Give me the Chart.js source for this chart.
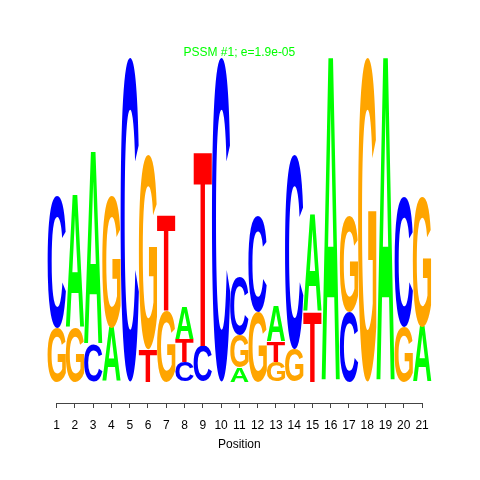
<!DOCTYPE html>
<html>
<head>
<meta charset="utf-8">
<script src="https://cdn.jsdelivr.net/npm/chart.js@4/dist/chart.umd.min.js"></script>
<style>
  html, body { margin: 0; padding: 0; background: #fff; }
  #wrap { width: 480px; height: 480px; }
</style>
</head>
<body>
<div id="wrap"><canvas id="c" width="480" height="480"></canvas></div>
<script>
// Positions (x categories)
const positions = ['1','2','3','4','5','6','7','8','9','10','11','12','13','14','15','16','17','18','19','20','21'];
// Letter heights (bits) per position
const heightA = [0, 0.82, 1.19, 0.33, 0, 0, 0, 0.20, 0, 0, 0.09, 0, 0.21, 0, 0.60, 2.0, 0, 0, 2.0, 0, 0.34];
const heightC = [0.81, 0, 0.23, 0, 2.0, 0, 0, 0.12, 0.22, 2.0, 0.36, 0.59, 0, 1.20, 0, 0, 0.43, 0, 0, 0.80, 0];
const heightG = [0.33, 0.33, 0, 0.81, 0, 1.20, 0.44, 0, 0, 0, 0.20, 0.43, 0.12, 0.20, 0, 0, 0.59, 2.0, 0, 0.34, 0.80];
const heightT = [0, 0, 0, 0, 0, 0.20, 0.59, 0.14, 1.20, 0, 0, 0, 0.13, 0, 0.43, 0, 0, 0, 0, 0, 0];
const letters = ['A', 'C', 'G', 'T'];
const letterColors = { A: '#00FF00', C: '#0000FF', G: '#FFA500', T: '#FF0000' };
const titleText = 'PSSM #1; e=1.9e-05';
const xTitle = 'Position';

const heights = { A: heightA, C: heightC, G: heightG, T: heightT };

// Build floating [start, end] ranges: smallest letter at the bottom
const ranges = { A: [], C: [], G: [], T: [] };
positions.forEach((p, i) => {
  const order = letters.map(l => ({ l, h: heights[l][i] })).sort((a, b) => a.h - b.h);
  let acc = 0;
  order.forEach(o => {
    if (o.h > 0) { ranges[o.l][i] = [acc, acc + o.h]; acc += o.h; }
    else ranges[o.l][i] = null;
  });
});

const datasets = letters.map(l => ({
  label: l,
  data: ranges[l],
  backgroundColor: 'rgba(0,0,0,0)',
  borderWidth: 0,
  grouped: false,
  barPercentage: 1.0,
  categoryPercentage: 1.0
}));

const glyphFont = 'bold 200px "Liberation Sans", Arial, sans-serif';
const letterPlugin = {
  id: 'letters',
  afterDatasetsDraw(chart) {
    const ctx = chart.ctx;
    chart.data.datasets.forEach((ds, di) => {
      const meta = chart.getDatasetMeta(di);
      const ch = ds.label;
      meta.data.forEach((el, i) => {
        if (!ds.data[i]) return;
        const top = Math.min(el.y, el.base);
        const bottom = Math.max(el.y, el.base);
        const h = bottom - top;
        const w = el.width;
        if (h <= 0.3) return;
        ctx.save();
        ctx.font = glyphFont;
        ctx.textBaseline = 'alphabetic';
        ctx.textAlign = 'left';
        const m = ctx.measureText(ch);
        const gl = m.actualBoundingBoxLeft;
        const gw = m.actualBoundingBoxLeft + m.actualBoundingBoxRight;
        const gh = m.actualBoundingBoxAscent + m.actualBoundingBoxDescent;
        ctx.translate(el.x - w / 2, top);
        ctx.scale(w / gw, h / gh);
        ctx.fillStyle = letterColors[ch];
        ctx.fillText(ch, gl, m.actualBoundingBoxAscent);
        ctx.restore();
      });
    });
  }
};

const axisPlugin = {
  id: 'axisline',
  afterDraw(chart) {
    const ctx = chart.ctx;
    const xs = chart.scales.x;
    const y = chart.chartArea.bottom + 0.5;
    ctx.save();
    ctx.strokeStyle = '#444';
    ctx.lineWidth = 1;
    ctx.beginPath();
    ctx.moveTo(xs.getPixelForTick(0), y);
    ctx.lineTo(xs.getPixelForTick(positions.length - 1), y);
    ctx.stroke();
    ctx.fillStyle = '#00FF00';
    ctx.font = '12px "Liberation Sans", Arial, sans-serif';
    ctx.textAlign = 'center';
    ctx.textBaseline = 'middle';
    ctx.fillText(titleText, (chart.chartArea.left + chart.chartArea.right) / 2, 53);
    ctx.restore();
  }
};

new Chart(document.getElementById('c'), {
  type: 'bar',
  data: { labels: positions, datasets },
  options: {
    responsive: false,
    animation: false,
    devicePixelRatio: 1,
    layout: { padding: { left: 47.5, right: 48.8, top: 57.3, bottom: 28.3 } },
    plugins: { legend: { display: false }, tooltip: { enabled: false }, title: { display: false } },
    scales: {
      x: {
        type: 'category',
        offset: true,
        grid: { offset: false, drawOnChartArea: false, drawTicks: true, tickLength: 5, color: '#444' },
        border: { display: false },
        ticks: { color: '#000', padding: 10, maxRotation: 0, autoSkip: false, font: { family: '"Liberation Sans", Arial, sans-serif', size: 12 } },
        title: { display: true, text: xTitle, color: '#000', padding: { top: -5.1, bottom: 0 }, font: { family: '"Liberation Sans", Arial, sans-serif', size: 12 } }
      },
      y: { display: false, min: -0.1315, max: 2.0 }
    }
  },
  plugins: [letterPlugin, axisPlugin]
});
</script>
</body>
</html>
